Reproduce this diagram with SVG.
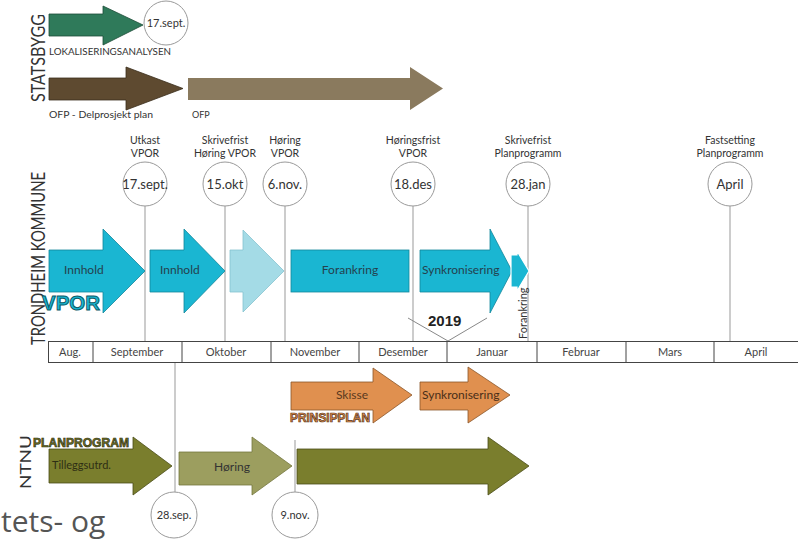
<svg xmlns="http://www.w3.org/2000/svg" width="798" height="541" viewBox="0 0 798 541">
<style>
text{font-family:Lato,"Open Sans","Liberation Sans",sans-serif;fill:#333}
.big{font-size:19px;fill:#333}
.lbl{font-size:10.5px;text-anchor:middle}
.circ{fill:#fff;stroke:#9a9a9a;stroke-width:1}
.ctx{font-size:13px;text-anchor:middle;fill:#333}
.ctxs{font-size:11px;text-anchor:middle;fill:#333}
.mon{font-size:11px;text-anchor:middle;fill:#444}
.con{stroke:#aaa;stroke-width:1.2;fill:none}
.teal{fill:#1ab6d2;stroke:#13879b;stroke-width:0.8}
.lteal{fill:#a4dbe6;stroke:#86c3cf;stroke-width:0.8}
.orange{fill:#e0904f;stroke:#8a5528;stroke-width:0.8}
.olive{fill:#7a7e2d;stroke:#4a4d18;stroke-width:0.8}
.lolive{fill:#9c9e5f;stroke:#74763e;stroke-width:0.8}
.atx{font-size:12px;fill:#24414e}
.small{font-size:9px;fill:#333}
</style>

<g id="connectors">
  <line class="con" x1="145" y1="206" x2="145" y2="341"/>
  <line class="con" x1="225" y1="206" x2="225" y2="341"/>
  <line class="con" x1="285" y1="206" x2="285" y2="341"/>
  <line class="con" x1="413" y1="206" x2="413" y2="341"/>
  <line class="con" x1="528" y1="206" x2="528" y2="341"/>
  <line class="con" x1="730" y1="206" x2="730" y2="341"/>
  <line class="con" x1="175" y1="362" x2="175" y2="492"/>
  <line class="con" x1="295" y1="440" x2="295" y2="492"/>
  <polyline points="408,318 448,341 487,318" fill="none" stroke="#888" stroke-width="1"/>
</g>

<g id="statsbygg">
  <text class="big" transform="translate(45,102) rotate(-90)" textLength="88" lengthAdjust="spacingAndGlyphs">STATSBYGG</text>
</g>
<g id="lokalisering">
  <path d="M49 14 L103 14 L103 6 L143 25 L103 45 L103 36 L49 36 Z" fill="#2f7a5a" stroke="#1d4d38" stroke-width="0.8"/>
  <text class="small" x="49" y="55" textLength="122" lengthAdjust="spacingAndGlyphs">LOKALISERINGSANALYSEN</text>
</g>
<g id="sb-17sept">
  <circle class="circ" cx="166" cy="23" r="22"/>
  <text x="166" y="27" style="font-size:11px;text-anchor:middle">17.sept.</text>
</g>
<g id="ofp-delprosjekt">
  <path d="M49 78 L126 78 L126 67 L183 88.5 L126 110 L126 100 L49 100 Z" fill="#5e4a30" stroke="#3a2d1c" stroke-width="0.8"/>
  <text class="small" x="49" y="118" textLength="104" lengthAdjust="spacingAndGlyphs">OFP - Delprosjekt plan</text>
</g>
<g id="ofp">
  <path d="M188 78 L410 78 L410 67 L443 88.5 L410 110 L410 100 L188 100 Z" fill="#8a7a5e"/>
  <text class="small" x="192" y="118">OFP</text>
</g>

<g id="trondheim">
  <text class="big" transform="translate(45,345) rotate(-90)" textLength="173" lengthAdjust="spacingAndGlyphs">TRONDHEIM KOMMUNE</text>
</g>

<g id="m-17sept">
  <text class="lbl" x="145" y="144">Utkast</text>
  <text class="lbl" x="145" y="157">VPOR</text>
  <circle class="circ" cx="145" cy="184" r="22"/>
  <text class="ctx" x="145" y="189">17.sept.</text>
</g>
<g id="m-15okt">
  <text class="lbl" x="225" y="144">Skrivefrist</text>
  <text class="lbl" x="225" y="157">Høring VPOR</text>
  <circle class="circ" cx="225" cy="184" r="22"/>
  <text class="ctx" x="225" y="189">15.okt</text>
</g>
<g id="m-6nov">
  <text class="lbl" x="285" y="144">Høring</text>
  <text class="lbl" x="285" y="157">VPOR</text>
  <circle class="circ" cx="285" cy="184" r="22"/>
  <text class="ctx" x="285" y="189">6.nov.</text>
</g>
<g id="m-18des">
  <text class="lbl" x="413" y="144">Høringsfrist</text>
  <text class="lbl" x="413" y="157">VPOR</text>
  <circle class="circ" cx="413" cy="184" r="22"/>
  <text class="ctx" x="413" y="189">18.des</text>
</g>
<g id="m-28jan">
  <text class="lbl" x="528" y="144">Skrivefrist</text>
  <text class="lbl" x="528" y="157">Planprogramm</text>
  <circle class="circ" cx="528" cy="184" r="22"/>
  <text class="ctx" x="528" y="189">28.jan</text>
</g>
<g id="m-april">
  <text class="lbl" x="730" y="144">Fastsetting</text>
  <text class="lbl" x="730" y="157">Planprogramm</text>
  <circle class="circ" cx="730" cy="184" r="22"/>
  <text class="ctx" x="730" y="189">April</text>
</g>

<g id="innhold1">
  <path class="teal" d="M49 250 L103 250 L103 229 L145 271 L103 313 L103 292 L49 292 Z"/>
  <text class="atx" x="64" y="274">Innhold</text>
</g>
<g id="innhold2">
  <path class="teal" d="M150 250 L184 250 L184 229 L225 271 L184 313 L184 292 L150 292 Z"/>
  <text class="atx" x="160" y="274">Innhold</text>
</g>
<g id="hoering-vpor">
  <path class="lteal" d="M230 250 L243 250 L243 230 L284 271 L243 312 L243 292 L230 292 Z"/>
</g>
<g id="forankring">
  <rect class="teal" x="291" y="250" width="118" height="42"/>
  <text class="atx" x="350" y="274" text-anchor="middle">Forankring</text>
</g>
<g id="synkronisering">
  <path class="teal" d="M420 250 L490 250 L490 229 L512 271 L490 313 L490 292 L420 292 Z"/>
  <text class="atx" x="422" y="274">Synkronisering</text>
</g>
<g id="forankring2">
  <path d="M511 255 L517 255 L517 251 L529 271 L517 291 L517 287 L511 287 Z" fill="#1ab6d2" stroke="#fff" stroke-width="1.2"/>
  <text transform="translate(527,339) rotate(-90)" style="font-size:11px;fill:#333">Forankring</text>
</g>
<g id="vpor">
  <text x="42" y="310" textLength="58" lengthAdjust="spacingAndGlyphs" style="font-size:21px;font-weight:bold;fill:#1ab6d2;stroke:#0b5a68;stroke-width:1;font-family:'Liberation Sans',Arial,sans-serif">VPOR</text>
</g>
<g id="y2019">
  <text x="428" y="326" style="font-size:15px;font-weight:bold;fill:#222;font-family:'Liberation Sans',Arial,sans-serif">2019</text>
</g>

<g id="timeline">
  <rect x="48.5" y="341.5" width="752" height="21" fill="#fff" stroke="#444" stroke-width="1"/>
  <g stroke="#444" stroke-width="1">
    <line x1="93" y1="341.5" x2="93" y2="362.5"/>
    <line x1="182" y1="341.5" x2="182" y2="362.5"/>
    <line x1="271" y1="341.5" x2="271" y2="362.5"/>
    <line x1="359" y1="341.5" x2="359" y2="362.5"/>
    <line x1="447" y1="341.5" x2="447" y2="362.5"/>
    <line x1="537" y1="341.5" x2="537" y2="362.5"/>
    <line x1="626" y1="341.5" x2="626" y2="362.5"/>
    <line x1="714" y1="341.5" x2="714" y2="362.5"/>
  </g>
  <text class="mon" x="70" y="356">Aug.</text>
  <text class="mon" x="137" y="356">September</text>
  <text class="mon" x="226" y="356">Oktober</text>
  <text class="mon" x="315" y="356">November</text>
  <text class="mon" x="403" y="356">Desember</text>
  <text class="mon" x="492" y="356">Januar</text>
  <text class="mon" x="581" y="356">Februar</text>
  <text class="mon" x="670" y="356">Mars</text>
  <text class="mon" x="756" y="356">April</text>
</g>

<g id="skisse">
  <path class="orange" d="M291 382 L373 382 L373 368 L412 395 L373 423 L373 410 L291 410 Z"/>
  <text x="352" y="399" style="font-size:12px;fill:#5a3920;text-anchor:middle">Skisse</text>
</g>
<g id="synk-prinsipp">
  <path class="orange" d="M420 382 L468 382 L468 367 L510 395 L468 423 L468 410 L420 410 Z"/>
  <text x="422" y="399" style="font-size:12px;fill:#4a2e18">Synkronisering</text>
</g>
<g id="prinsipplan">
  <text x="290" y="422" style="font-size:12px;font-weight:bold;fill:#e0904f;stroke:#5a3418;stroke-width:0.7;font-family:'Liberation Sans',Arial,sans-serif" textLength="80" lengthAdjust="spacingAndGlyphs">PRINSIPPLAN</text>
</g>

<g id="ntnu">
  <text transform="translate(31,489) rotate(-90)" style="font-size:16px;fill:#333" textLength="54" lengthAdjust="spacingAndGlyphs">NTNU</text>
</g>
<g id="planprogram">
  <text x="33" y="447" style="font-size:12px;font-weight:bold;fill:#6e7224;stroke:#2a2a10;stroke-width:0.6;font-family:'Liberation Sans',Arial,sans-serif" textLength="96" lengthAdjust="spacingAndGlyphs">PLANPROGRAM</text>
</g>
<g id="tilleggsutrd">
  <path class="olive" d="M49 449 L133 449 L133 437 L172 466 L133 495 L133 483 L49 483 Z"/>
  <text x="52" y="469" style="font-size:11px;fill:#2e2e14">Tilleggsutrd.</text>
</g>
<g id="hoering-ntnu">
  <path class="lolive" d="M179 452 L252 452 L252 437 L292 466 L252 495 L252 485 L179 485 Z"/>
  <text x="232" y="471" style="font-size:12px;fill:#333;text-anchor:middle">Høring</text>
</g>
<g id="ntnu-main">
  <path class="olive" d="M297 449 L488 449 L488 437 L529 466 L488 495 L488 484 L297 484 Z"/>
</g>
<g id="m-28sep">
  <circle class="circ" cx="174" cy="515" r="23"/>
  <text class="ctxs" x="174" y="519">28.sep.</text>
</g>
<g id="m-9nov">
  <circle class="circ" cx="295" cy="515" r="23"/>
  <text class="ctxs" x="295" y="519">9.nov.</text>
</g>

<text x="1" y="532" style="font-size:30px;fill:#555;font-family:'Open Sans',sans-serif">tets- og</text>
</svg>
